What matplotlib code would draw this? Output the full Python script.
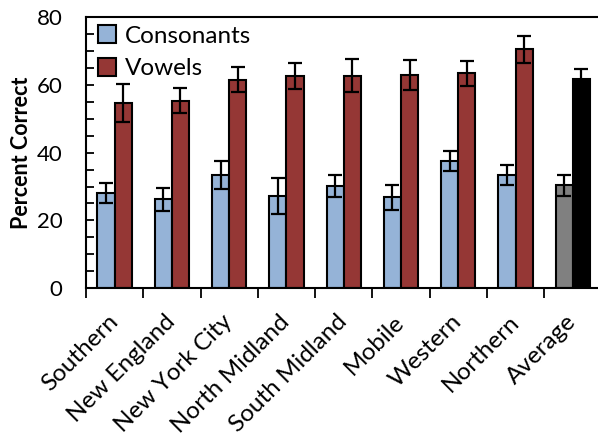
import numpy as np
import matplotlib
matplotlib.use("Agg")
import matplotlib.pyplot as plt

plt.rcParams['font.family'] = ['Lato', 'DejaVu Sans']

regions = ['Southern', 'New England', 'New York City', 'North Midland',
           'South Midland', 'Mobile', 'Western', 'Northern', 'Average']
consonants = [28.0, 26.2, 33.5, 27.3, 30.1, 26.8, 37.6, 33.4, 30.3]
consonants_err = [3.0, 3.4, 4.1, 5.3, 3.3, 3.6, 2.9, 3.1, 3.0]
vowels = [54.7, 55.4, 61.6, 62.6, 62.8, 62.9, 63.5, 70.6, 61.7]
vowels_err = [5.6, 3.8, 3.8, 3.9, 4.8, 4.4, 3.7, 4.0, 3.0]

blue = '#95b3d7'
red = '#953735'
cons_colors = [blue] * 8 + ['#808080']
vow_colors = [red] * 8 + ['#000000']

fig = plt.figure(figsize=(5.98, 4.36), dpi=100)
ax = fig.add_axes([0.1438, 0.3394, 0.8620, 0.6209])

x = np.arange(len(regions))
w = 0.3
err_kw = dict(ecolor='black', elinewidth=1.6, capsize=5, capthick=1.6)
ax.bar(x - w / 2, consonants, w, yerr=consonants_err, color=cons_colors,
       edgecolor='black', linewidth=1.5, error_kw=err_kw, label='Consonants')
ax.bar(x + w / 2, vowels, w, yerr=vowels_err, color=vow_colors,
       edgecolor='black', linewidth=1.5, error_kw=err_kw, label='Vowels')

ax.set_xlim(-0.5, len(regions) - 0.5)
ax.set_ylim(0, 80)
ax.set_yticks(np.arange(0, 81, 20))
ax.set_yticks(np.arange(0, 81, 5), minor=True)
ax.tick_params(axis='y', which='both', direction='in', length=6, width=1.3,
               labelsize=16, pad=17)
ax.tick_params(axis='x', which='both', direction='out', length=7, width=1.3)

# category boundaries get the ticks, names sit at the centres
ax.set_xticks(np.arange(-0.5, len(regions), 1))
ax.set_xticklabels([])
ax.set_xticks(x, minor=True)
ax.set_xticklabels(regions, minor=True, rotation=45, ha='right', va='center',
                   rotation_mode='anchor', fontsize=17.5)
ax.tick_params(axis='x', which='minor', length=0, pad=22)

ax.set_ylabel('Percent Correct', fontsize=15.5, fontweight='bold', labelpad=3)

for s in ['left', 'bottom', 'top']:
    ax.spines[s].set_linewidth(1.5)
ax.spines['right'].set_visible(False)

leg = ax.legend(loc='upper left', frameon=False, fontsize=17.5,
                handlelength=0.75, handleheight=0.75, handletextpad=0.35,
                labelspacing=0.45, borderaxespad=0.1,
                bbox_to_anchor=(0.0, 1.015))

fig.savefig('out.png', dpi=100)
